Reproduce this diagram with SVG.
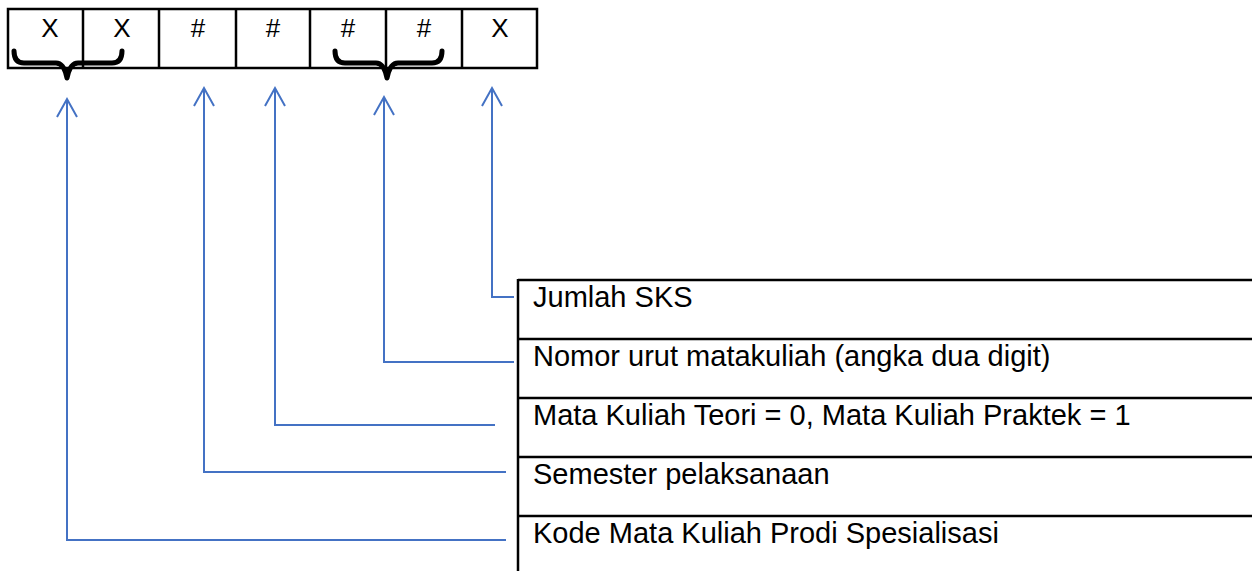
<svg xmlns="http://www.w3.org/2000/svg" width="1252" height="571" viewBox="0 0 1252 571">
  <style>
    .cell { fill: #ffffff; stroke: #000000; stroke-width: 2.5; }
    .grid { stroke: #000000; stroke-width: 2.5; fill: none; }
    .ch { font-family: "Liberation Sans", Arial, sans-serif; font-size: 26px; fill: #000000; text-anchor: middle; }
    .lbl { font-family: "Liberation Sans", Arial, sans-serif; font-size: 29px; fill: #000000; }
    .brace { fill: none; stroke: #000000; stroke-width: 5; stroke-linejoin: round; stroke-linecap: round; }
    .conn { fill: none; stroke: #4472C4; stroke-width: 2; }
  </style>
  <rect width="1252" height="571" fill="#ffffff"/>

  <g id="code-table">
    <rect class="cell" x="8" y="9" width="529" height="59"/>
    <line class="grid" x1="83" y1="9" x2="83" y2="68"/>
    <line class="grid" x1="159" y1="9" x2="159" y2="68"/>
    <line class="grid" x1="236" y1="9" x2="236" y2="68"/>
    <line class="grid" x1="310" y1="9" x2="310" y2="68"/>
    <line class="grid" x1="386" y1="9" x2="386" y2="68"/>
    <line class="grid" x1="462" y1="9" x2="462" y2="68"/>
    <text class="ch" x="50" y="37">X</text>
    <text class="ch" x="122" y="37">X</text>
    <text class="ch" x="198" y="37">#</text>
    <text class="ch" x="273" y="37">#</text>
    <text class="ch" x="348" y="37">#</text>
    <text class="ch" x="424" y="37">#</text>
    <text class="ch" x="500" y="37">X</text>
  </g>

  <g id="brace-1">
    <path class="brace" d="M14,51 Q14,63 24,63 L56,63 Q64,63 67,78 Q70,63 78,63 L112,63 Q122,63 122,51"/>
  </g>
  <g id="brace-2">
    <path class="brace" d="M335,51 Q335,63 345,63 L376,63 Q384,63 387,78 Q390,63 398,63 L432,63 Q442,63 442,51"/>
  </g>

  <g id="legend-table">
    <line class="grid" x1="518" y1="280" x2="1252" y2="280"/>
    <line class="grid" x1="518" y1="339" x2="1252" y2="339"/>
    <line class="grid" x1="518" y1="398" x2="1252" y2="398"/>
    <line class="grid" x1="518" y1="457" x2="1252" y2="457"/>
    <line class="grid" x1="518" y1="516" x2="1252" y2="516"/>
    <line class="grid" x1="518" y1="279" x2="518" y2="571"/>
  </g>
  <g id="label-sks"><text class="lbl" x="533" y="307">Jumlah SKS</text></g>
  <g id="label-nomor"><text class="lbl" x="533" y="366">Nomor urut matakuliah (angka dua digit)</text></g>
  <g id="label-teori"><text class="lbl" x="533" y="425">Mata Kuliah Teori = 0, Mata Kuliah Praktek = 1</text></g>
  <g id="label-semester"><text class="lbl" x="533" y="484">Semester pelaksanaan</text></g>
  <g id="label-kode"><text class="lbl" x="533" y="543">Kode Mata Kuliah Prodi Spesialisasi</text></g>

  <g id="connectors">
    <path class="conn" d="M67,99 L67,540 L506,540"/>
    <path class="conn" d="M57,117 L67,99 L77,117"/>
    <path class="conn" d="M204,88 L204,472 L506,472"/>
    <path class="conn" d="M194,106 L204,88 L214,106"/>
    <path class="conn" d="M275,88 L275,425 L495,425"/>
    <path class="conn" d="M265,106 L275,88 L285,106"/>
    <path class="conn" d="M384,97 L384,362 L514,362"/>
    <path class="conn" d="M374,115 L384,97 L394,115"/>
    <path class="conn" d="M492,88 L492,297 L514,297"/>
    <path class="conn" d="M482,106 L492,88 L502,106"/>
  </g>
</svg>
